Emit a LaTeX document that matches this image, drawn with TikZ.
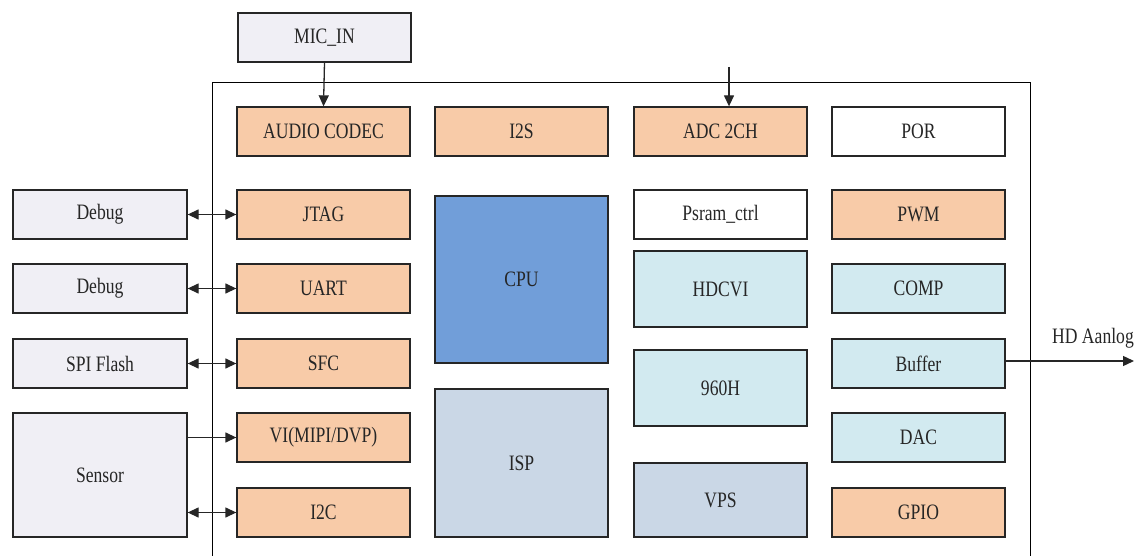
\documentclass[tikz,border=0pt]{standalone}
\usepackage{fontspec}
\setmainfont[FakeStretch=0.8]{Liberation Serif}
\usetikzlibrary{arrows.meta}
\definecolor{peach}{RGB}{248,203,168}
\definecolor{lav}{RGB}{240,239,245}
\definecolor{cpub}{RGB}{113,158,217}
\definecolor{grayb}{RGB}{202,215,230}
\definecolor{cyanl}{RGB}{210,234,240}
\definecolor{edge}{RGB}{38,38,38}
\tikzset{
  blk/.style={draw=edge, line width=1.3pt, inner sep=0pt, minimum width=173pt, minimum height=49pt,
    font=\fontsize{22}{26}\selectfont, text=edge},
  conn/.style={line width=1.3pt, draw=edge, -{Triangle[length=11pt,width=10pt]}},
  bconn/.style={line width=1.3pt, draw=edge, {Triangle[length=11pt,width=10pt]}-{Triangle[length=11pt,width=10pt]}},
}
\begin{document}
\begin{tikzpicture}[x=1pt,y=-1pt]
\path[use as bounding box] (0,0) rectangle (1148,556);
\clip (0,0) rectangle (1148,556);
% chip outline
\node[draw=black, line width=1.3pt, minimum width=818pt, minimum height=520pt, inner sep=0pt, anchor=north west] (chip) at (212,82) {};
% outer
\node[blk, fill=lav] (mic) at (324.5,37.5) {MIC\_IN};
\node[blk, fill=lav, minimum width=174pt] (dbg1) at (100,214.5) {Debug};
\node[blk, fill=lav, minimum width=174pt] (dbg2) at (100,288.5) {Debug};
\node[blk, fill=lav, minimum width=174pt] (spi) at (100,363.5) {SPI Flash};
\node[blk, fill=lav, minimum width=174pt, minimum height=124pt] (sensor) at (100,475) {Sensor};
% column A
\node[blk, fill=peach] (audio) at (323.5,131.5) {AUDIO CODEC};
\node[blk, fill=peach] (jtag) at (323.5,214.5) {JTAG};
\node[blk, fill=peach] (uart) at (323.5,288.5) {UART};
\node[blk, fill=peach] (sfc) at (323.5,363.5) {SFC};
\node[blk, fill=peach] (vi) at (323.5,437.5) {VI(MIPI/DVP)};
\node[blk, fill=peach] (i2c) at (323.5,512.5) {I2C};
% column B
\node[blk, fill=peach] (i2s) at (521.5,131.5) {I2S};
\node[blk, fill=cpub, minimum height=167pt] (cpu) at (521.5,279.5) {CPU};
\node[blk, fill=grayb, minimum height=148pt] (isp) at (521.5,463) {ISP};
% column C
\node[blk, fill=peach] (adc) at (720.5,131.5) {ADC 2CH};
\node[blk, fill=white] (psram) at (720.5,214.5) {Psram\_ctrl};
\node[blk, fill=cyanl, minimum height=76pt] (hdcvi) at (720.5,289) {HDCVI};
\node[blk, fill=cyanl, minimum height=76pt] (h960) at (720.5,388) {960H};
\node[blk, fill=grayb, minimum height=74pt] (vps) at (720.5,500) {VPS};
% column D
\node[blk, fill=white] (por) at (918.5,131.5) {POR};
\node[blk, fill=peach] (pwm) at (918.5,214.5) {PWM};
\node[blk, fill=cyanl] (comp) at (918.5,288.5) {COMP};
\node[blk, fill=cyanl] (buffer) at (918.5,363.5) {Buffer};
\node[blk, fill=cyanl] (dac) at (918.5,437.5) {DAC};
\node[blk, fill=peach] (gpio) at (918.5,512.5) {GPIO};
% connectors
\coordinate (adcin) at (729,67);
\coordinate (hdout) at (1134,361);
\draw[conn] (mic.south) -- (audio.north);
\draw[conn] (adcin) -- (adcin |- adc.north);
\draw[bconn] (dbg1.east) -- (jtag.west);
\draw[bconn] (dbg2.east) -- (uart.west);
\draw[bconn] (spi.east) -- (sfc.west);
\draw[conn] (sensor.east |- vi.west) -- (vi.west);
\draw[bconn] (sensor.east |- i2c.west) -- (i2c.west);
\draw[conn] (buffer.east |- hdout) -- (hdout);
\node[font=\fontsize{22}{26}\selectfont, text=edge, inner sep=0pt] (hdlbl) at (1093,338) {HD Aanlog};
\end{tikzpicture}
\end{document}
